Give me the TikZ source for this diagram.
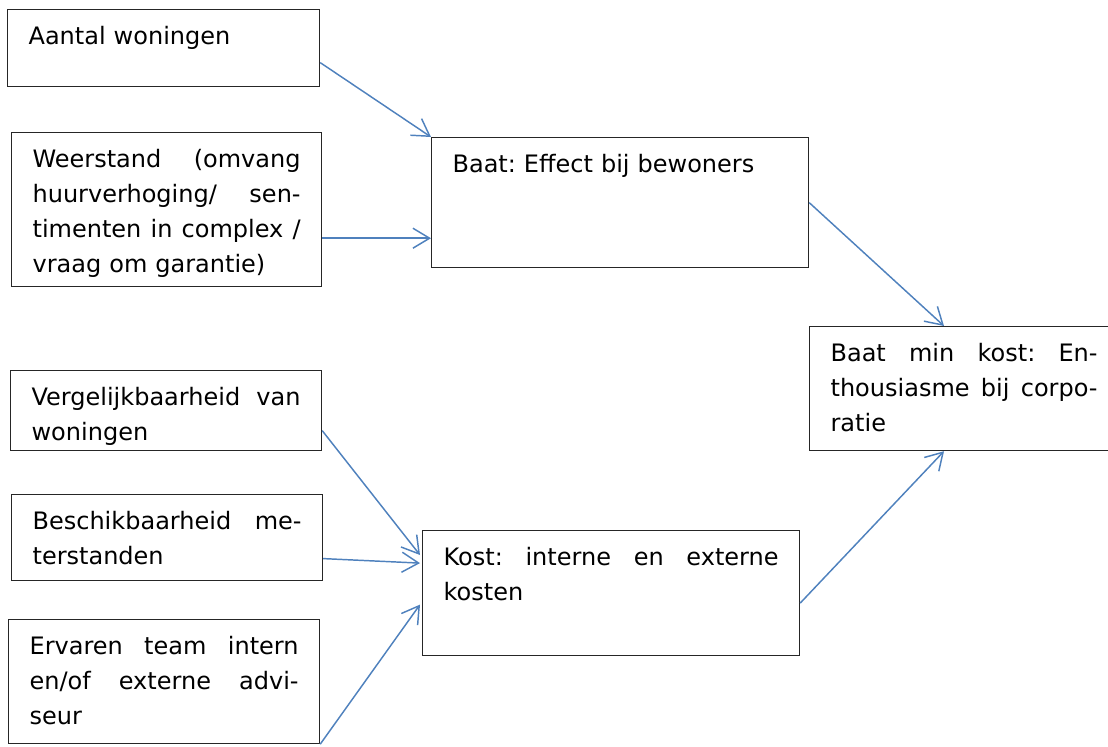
\documentclass[tikz,border=0pt]{standalone}
\usepackage{fontspec}
\setmainfont{DejaVu Sans}
\usetikzlibrary{arrows.meta, calc}
\definecolor{pijlBlauw}{HTML}{4F81BD}
\definecolor{kaderGrijs}{HTML}{262626}
\frenchspacing
\newcommand{\uitvul}[1]{{\spaceskip=0.318em plus 1fil\xspaceskip=0.318em plus 1fil%
  \makebox[\hsize][s]{#1}}}

\begin{document}
\begin{tikzpicture}[x=0.75pt, y=-0.75pt,
    blok/.style={draw=kaderGrijs, line width=0.9pt, anchor=north west, align=left,
      inner xsep=15.75pt, inner ysep=12.5pt, text height=13.5pt,
      font=\fontsize{18}{26.25}\selectfont},
    pijl/.style={-{Straight Barb[length=12.5pt, width=15pt]}, pijlBlauw, line width=1.1pt}]
    \useasboundingbox (0,0) rectangle (1108,747);

    % Factoren baat
    \node[blok, text width=202.5pt, text depth=19.25pt] (aantal) at (7,9)
      {Aantal woningen};
    \node[blok, text width=201pt, text depth=77pt] (weerstand) at (11,132)
      {\uitvul{Weerstand (omvang}\\ \uitvul{huurverhoging/ sen-}\\
       \uitvul{timenten in complex /}\\ vraag om garantie)};

    % Baat
    \node[blok, text width=251.25pt, text depth=59pt] (baat) at (431,137)
      {Baat: Effect bij bewoners};

    % Factoren kost
    \node[blok, text width=201.75pt, text depth=21.5pt] (vergelijk) at (10,370)
      {\uitvul{Vergelijkbaarheid van}\\ woningen};
    \node[blok, text width=201.75pt, text depth=26pt] (beschik) at (11,494)
      {\uitvul{Beschikbaarheid me-}\\ terstanden};
    \node[blok, text width=201.75pt, text depth=54.5pt] (ervaren) at (8,619)
      {\uitvul{Ervaren team intern}\\ \uitvul{en/of externe advi-}\\ seur};

    % Kost
    \node[blok, text width=251.25pt, text depth=55.25pt] (kost) at (422,530)
      {\uitvul{Kost: interne en externe}\\ kosten};

    % Baat min kost
    \node[blok, text width=200.25pt, text depth=54.5pt] (minkost) at (809,326)
      {\uitvul{Baat min kost: En-}\\ \uitvul{thousiasme bij corpo-}\\ ratie};

    % Pijlen naar baat
    \draw[pijl] (aantal.east) ++(0,14.5) -- (baat.north west);
    \draw[pijl] (weerstand.south east) ++(0,-49) coordinate (w1) -- (w1 -| baat.west);

    % Pijlen naar kost
    \draw[pijl] (vergelijk.east) ++(0,20) -- ($(kost.north west)+(-2,25)$);
    \draw[pijl] (beschik.east) ++(0,21) -- ($(kost.west)+(-2,-30)$);
    \draw[pijl] (ervaren.south east) -- ($(kost.west)+(-2,11.5)$);

    % Pijlen naar baat min kost
    \draw[pijl] (baat.east) -- ($(minkost.north west)+(135,0)$);
    \draw[pijl] (kost.east) ++(0,10) -- ($(minkost.south west)+(135,0)$);
  \end{tikzpicture}
\end{document}
